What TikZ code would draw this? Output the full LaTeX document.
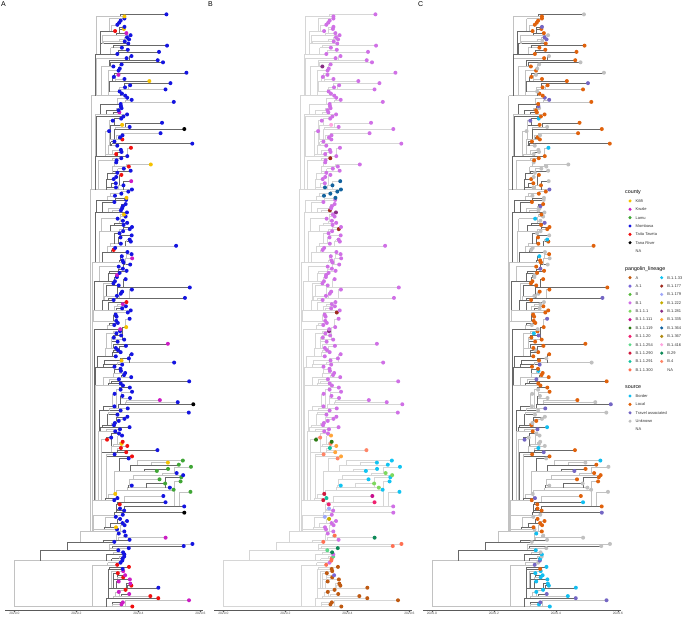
\documentclass[tikz,border=0pt]{standalone}
\usepackage{fontspec}
\setmainfont{Liberation Sans}
\definecolor{cty1}{HTML}{F5C100}
\definecolor{cty2}{HTML}{CC1CC4}
\definecolor{cty3}{HTML}{3FA535}
\definecolor{cty4}{HTML}{1414E0}
\definecolor{cty5}{HTML}{F01010}
\definecolor{cty6}{HTML}{000000}
\definecolor{pl1}{HTML}{BF5A12}
\definecolor{pl2}{HTML}{7A68D8}
\definecolor{pl3}{HTML}{55B83A}
\definecolor{pl4}{HTML}{D070E6}
\definecolor{pl5}{HTML}{7ED85E}
\definecolor{pl6}{HTML}{C8108E}
\definecolor{pl7}{HTML}{2A7A12}
\definecolor{pl8}{HTML}{F0206E}
\definecolor{pl9}{HTML}{5ED98A}
\definecolor{pl10}{HTML}{D0183C}
\definecolor{pl11}{HTML}{12C29E}
\definecolor{pl12}{HTML}{FF7052}
\definecolor{pl13}{HTML}{10C4F2}
\definecolor{pl14}{HTML}{9E2A1E}
\definecolor{pl15}{HTML}{A0A8FA}
\definecolor{pl16}{HTML}{C4AC00}
\definecolor{pl17}{HTML}{8A2E86}
\definecolor{pl18}{HTML}{FFA53A}
\definecolor{pl19}{HTML}{12629E}
\definecolor{pl20}{HTML}{B08A12}
\definecolor{pl21}{HTML}{FFA6E0}
\definecolor{pl22}{HTML}{0E8A58}
\definecolor{pl23}{HTML}{FF8466}
\definecolor{src1}{HTML}{12BEF0}
\definecolor{src2}{HTML}{E0620C}
\definecolor{src3}{HTML}{7466C4}
\definecolor{src4}{HTML}{C0C0C0}
\definecolor{brd1}{HTML}{686868}
\definecolor{brd2}{HTML}{C2C2C2}
\definecolor{brB}{HTML}{D6D6D6}
\newcount\jjc
\tikzset{
  br/.style={line width=0.45pt},
  lgtitle/.style={anchor=west, inner sep=0pt, font=\fontsize{5.3}{6}\selectfont},
  lgtext/.style={anchor=west, inner sep=0pt, font=\fontsize{4}{5}\selectfont, text=black!80},
  axlab/.style={anchor=north, inner sep=0pt, font=\fontsize{3.3}{4}\selectfont, text=black!70},
  plab/.style={anchor=north west, inner sep=0pt, font=\fontsize{7}{8}\selectfont},
  axline/.style={line width=0.5pt, draw=black!65}
}
\newcommand\drawtree[4]{%
  \foreach \i in {1,...,285}{%
    \edef\yi{\csname ty\i\endcsname}%
    \edef\bi{\csname tb\i\endcsname}%
    \edef\ti{\csname tt\i\endcsname}%
    \edef\lc{#2}%
    \draw[br, draw=\lc] (#1+\bi,\yi) -- (#1+\ti,\yi);
    \ifnum\i>1
      \edef\pj{\csname tp\i\endcsname}%
      \edef\yj{\csname ty\pj\endcsname}%
      \draw[br, draw=\lc] (#1+\bi,\yj) -- (#1+\bi,\yi);
    \fi
  }
  \foreach \i in {1,...,285}{%
    \edef\yi{\csname ty\i\endcsname}%
    \edef\ti{\csname tt\i\endcsname}%
    \edef\dc{#4\csname #3\i\endcsname}%
    \fill[fill=\dc] (#1+\ti,\yi) circle (2pt);
  }
}
\newcommand\drawaxis[1]{%
  \draw[axline] (#1-9,610) -- (#1+189,610);
  \foreach \k/\lab in {0/2020.0,62/2020.2,124/2020.4,186/2020.6}{
    \draw[axline, line width=0.4pt] (#1+\k,610) -- (#1+\k,611.8);
    \node[axlab] at (#1+\k,612.3) {\lab};
  }
}
\begin{document}
\begin{tikzpicture}[x=1pt,y=-1pt]
\useasboundingbox (0,0) rectangle (685,616);
\pgfmathsetseed{31415}
\foreach \i in {1,...,285}{%
  \pgfmathsetmacro\yy{606.5-(\i-1)*2.085}%
  \pgfmathsetmacro\rA{rnd}\pgfmathsetmacro\rB{rnd}\pgfmathsetmacro\rC{rnd}%
  \pgfmathsetmacro\rD{rnd}\pgfmathsetmacro\rE{rnd}\pgfmathsetmacro\rF{rnd}%
  \pgfmathsetmacro\rG{rnd}\pgfmathsetmacro\rI{rnd}\pgfmathsetmacro\rJ{rnd}%
  \pgfmathsetmacro\rK{rnd}\pgfmathsetmacro\rL{rnd}%
  \pgfmathsetmacro\green{((\yy>460) && (\yy<492)) ? 1 : 0}%
  \pgfmathsetmacro\islong{(\green>0.5) ? ((\rB<0.8) ? 1 : 0) : ((\rB<0.12) ? 1 : 0)}%
  \pgfmathsetmacro\tT{(\islong>0.5) ? ((\green>0.5) ? (140+38*\rC) : (135+45*\rC)) : (99+19*\rA)}%
  \pgfmathsetmacro\tB{(\islong>0.5) ? ((\green>0.5) ? ((\rE<0.6) ? (\tT-4-25*\rD) : (98+30*\rD)) : (92+22*\rD)) : ((\rE<0.55) ? (\tT-2-12*\rD) : (76+30*\rD))}%
  \ifnum\i<23 \def\Bmin{72}\else\ifnum\i<37 \def\Bmin{30}\else\def\Bmin{70}\fi\fi
  \pgfmathsetmacro\tB{max(\tB,\Bmin)}%
  \pgfmathsetmacro\tT{((\rF<0.07) && (\islong<0.5)) ? (\tB+2+6*\rG) : \tT}%
  \pgfmathsetmacro\tT{max(\tT,\tB+2)}%
  \pgfmathtruncatemacro\codeA{(\yy>565) ? ((\rJ<0.55) ? 2 : ((\rJ<0.9) ? 5 : 4)) : ((\yy>535) ? ((\rJ<0.85) ? 4 : ((\rJ<0.93) ? 5 : 2)) : ((\yy>492) ? ((\rJ<0.8) ? 4 : ((\rJ<0.9) ? 1 : 5)) : ((\yy>460) ? ((\rJ<0.75) ? 3 : ((\rJ<0.95) ? 4 : 1)) : ((\yy>435) ? ((\rJ<0.45) ? 5 : ((\rJ<0.92) ? 4 : 1)) : ((\rJ<0.85) ? 4 : ((\rJ<0.91) ? 5 : ((\rJ<0.96) ? 2 : 1)))))))}%
  \pgfmathtruncatemacro\codeB{(\yy>565) ? ((\rI<0.9) ? 1 : 2) : ((\yy>535) ? ((\rI<0.4) ? 12 : ((\rI<0.6) ? 9 : ((\rI<0.8) ? 22 : 4))) : ((\yy>505) ? ((\rI<0.8) ? 4 : ((\rI<0.9) ? 15 : 16)) : ((\yy>492) ? ((\rI<0.4) ? 8 : ((\rI<0.6) ? 10 : ((\rI<0.8) ? 11 : 6))) : ((\yy>460) ? ((\rI<0.88) ? 13 : 5) : ((\yy>435) ? ((\rI<0.5) ? 23 : ((\rI<0.65) ? 18 : ((\rI<0.85) ? 7 : 11))) : (((\yy>180) && (\yy<198)) ? ((\rI<0.7) ? 19 : 4) : ((\rI<0.94) ? 4 : ((\rI<0.96) ? 14 : ((\rI<0.98) ? 17 : 21)))))))))}%
  \pgfmathtruncatemacro\codeC{(\yy>565) ? ((\rK<0.55) ? 1 : ((\rK<0.9) ? 3 : 2)) : ((\yy>535) ? ((\rK<0.5) ? 4 : ((\rK<0.85) ? 1 : 3)) : ((\rK<0.52) ? 2 : ((\rK<0.86) ? 4 : ((\rK<0.93) ? 1 : 3))))}%
  \pgfmathtruncatemacro\shd{(\rL<0.55) ? 1 : 2}%
  \ifnum\i=1 \def\tB{0}\def\tT{118}\fi
  \ifnum\i=23 \def\tB{0.001}\def\tT{108}\fi
  \ifnum\i=28 \def\tB{26}\def\tT{104}\fi
  \ifnum\i=32 \def\tB{53}\def\tT{100}\fi
  \ifnum\i=37 \def\tB{66}\def\tT{110}\fi
  \ifnum\i=46 \def\tB{100}\def\tT{170}\def\codeA{6}\fi
  \ifnum\i=98 \def\tB{104}\def\tT{179}\def\codeA{6}\fi
  \ifnum\i=230 \def\tB{100}\def\tT{170}\def\codeA{6}\fi
  \expandafter\xdef\csname ty\i\endcsname{\yy}%
  \expandafter\xdef\csname tb\i\endcsname{\tB}%
  \expandafter\xdef\csname tt\i\endcsname{\tT}%
  \expandafter\xdef\csname ca\i\endcsname{\codeA}%
  \expandafter\xdef\csname cb\i\endcsname{\codeB}%
  \expandafter\xdef\csname cc\i\endcsname{\codeC}%
  \expandafter\xdef\csname tl\i\endcsname{\shd}%
}
\foreach \i in {2,...,285}{%
  \jjc=\numexpr\i-1\relax
  \edef\bi{\csname tb\i\endcsname}%
  \loop
    \ifnum\jjc<1 \def\cont{0}\else
      \edef\bj{\csname tb\the\jjc\endcsname}%
      \edef\tj{\csname tt\the\jjc\endcsname}%
      \def\cont{1}%
      \ifdim\bj pt<\bi pt
        \ifdim\tj pt<\bi pt \else\def\cont{0}\fi
      \fi
    \fi
    \ifnum\cont=1 \advance\jjc by -1
  \repeat
  \expandafter\xdef\csname tp\i\endcsname{\the\jjc}%
}
% panels
\drawtree{14.3}{brd\csname tl\i\endcsname}{ca}{cty}
\drawtree{223.3}{brB}{cb}{pl}
\drawtree{431.8}{brd\csname tl\i\endcsname}{cc}{src}
\drawaxis{14.3}
\drawaxis{223.3}
\drawaxis{431.8}
\node[plab] (labA) at (1,1) {A};
\node[plab] (labB) at (208,1) {B};
\node[plab] (labC) at (418,1) {C};
% legends
\node[lgtitle] (tcounty) at (625,192.5) {county};
\foreach \n/\c [count=\k] in {Kilifi/cty1,Kwale/cty2,Lamu/cty3,Mombasa/cty4,Taita Taveta/cty5,Tana River/cty6}{
  \fill[fill=\c] (630,192.6+\k*8.35) circle (1.7pt);
  \node[lgtext] (cty-\k) at (635.5,192.6+\k*8.35) {\n};
}
\node[lgtext] (cty-na) at (635.5,251) {NA};
\node[lgtitle] (tpango) at (625,269) {pangolin\_lineage};
\foreach \n/\c [count=\k] in {A/pl1,A.1/pl2,B/pl3,B.1/pl4,B.1.1.1/pl5,B.1.1.111/pl6,B.1.1.119/pl7,B.1.1.20/pl8,B.1.1.254/pl9,B.1.1.290/pl10,B.1.1.291/pl11,B.1.1.300/pl12}{
  \fill[fill=\c] (630,269.3+\k*8.38) circle (1.7pt);
  \node[lgtext] (pla-\k) at (635.5,269.3+\k*8.38) {\n};
}
\foreach \n/\c [count=\k] in {B.1.1.33/pl13,B.1.177/pl14,B.1.179/pl15,B.1.222/pl16,B.1.281/pl17,B.1.335/pl18,B.1.364/pl19,B.1.367/pl20,B.1.416/pl21,B.29/pl22,B.4/pl23}{
  \fill[fill=\c] (661.7,269.3+\k*8.38) circle (1.7pt);
  \node[lgtext] (plb-\k) at (667.2,269.3+\k*8.38) {\n};
}
\node[lgtext] (pl-na) at (667.2,369.9) {NA};
\node[lgtitle] (tsource) at (625,387) {source};
\foreach \n/\c [count=\k] in {Border/src1,Local/src2,Travel associated/src3,Unknown/src4}{
  \fill[fill=\c] (630,387.6+\k*8.4) circle (1.7pt);
  \node[lgtext] (src-\k) at (635.5,387.6+\k*8.4) {\n};
}
\node[lgtext] (src-na) at (635.5,429.6) {NA};
\end{tikzpicture}
\end{document}
